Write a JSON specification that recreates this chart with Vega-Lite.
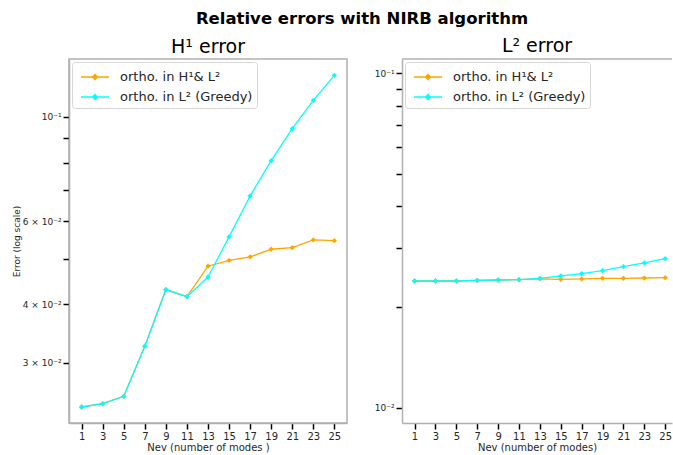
{
  "$schema": "https://vega.github.io/schema/vega-lite/v6.json",
  "padding": {"left": 11, "top": 10, "right": 0, "bottom": 0},
  "title": {
    "text": "Relative errors with NIRB algorithm",
    "fontSize": 16.5,
    "fontWeight": "bold",
    "font": "DejaVu Sans",
    "color": "#000000",
    "anchor": "middle",
    "dx": 20,
    "offset": 10
  },
  "data": {
    "values": [
      {"panel": "H1", "method": "ortho. in H¹& L²", "n": 1, "err": 0.02418},
      {"panel": "H1", "method": "ortho. in H¹& L²", "n": 3, "err": 0.02458},
      {"panel": "H1", "method": "ortho. in H¹& L²", "n": 5, "err": 0.02548},
      {"panel": "H1", "method": "ortho. in H¹& L²", "n": 7, "err": 0.03256},
      {"panel": "H1", "method": "ortho. in H¹& L²", "n": 9, "err": 0.04295},
      {"panel": "H1", "method": "ortho. in H¹& L²", "n": 11, "err": 0.0415},
      {"panel": "H1", "method": "ortho. in H¹& L²", "n": 13, "err": 0.04817},
      {"panel": "H1", "method": "ortho. in H¹& L²", "n": 15, "err": 0.04955},
      {"panel": "H1", "method": "ortho. in H¹& L²", "n": 17, "err": 0.0504},
      {"panel": "H1", "method": "ortho. in H¹& L²", "n": 19, "err": 0.05234},
      {"panel": "H1", "method": "ortho. in H¹& L²", "n": 21, "err": 0.05275},
      {"panel": "H1", "method": "ortho. in H¹& L²", "n": 23, "err": 0.05477},
      {"panel": "H1", "method": "ortho. in H¹& L²", "n": 25, "err": 0.05458},
      {"panel": "H1", "method": "ortho. in L² (Greedy)", "n": 1, "err": 0.02418},
      {"panel": "H1", "method": "ortho. in L² (Greedy)", "n": 3, "err": 0.02458},
      {"panel": "H1", "method": "ortho. in L² (Greedy)", "n": 5, "err": 0.02548},
      {"panel": "H1", "method": "ortho. in L² (Greedy)", "n": 7, "err": 0.03256},
      {"panel": "H1", "method": "ortho. in L² (Greedy)", "n": 9, "err": 0.04295},
      {"panel": "H1", "method": "ortho. in L² (Greedy)", "n": 11, "err": 0.0415},
      {"panel": "H1", "method": "ortho. in L² (Greedy)", "n": 13, "err": 0.04569},
      {"panel": "H1", "method": "ortho. in L² (Greedy)", "n": 15, "err": 0.05559},
      {"panel": "H1", "method": "ortho. in L² (Greedy)", "n": 17, "err": 0.06792},
      {"panel": "H1", "method": "ortho. in L² (Greedy)", "n": 19, "err": 0.08075},
      {"panel": "H1", "method": "ortho. in L² (Greedy)", "n": 21, "err": 0.09443},
      {"panel": "H1", "method": "ortho. in L² (Greedy)", "n": 23, "err": 0.1085},
      {"panel": "H1", "method": "ortho. in L² (Greedy)", "n": 25, "err": 0.1226},
      {"panel": "L2", "method": "ortho. in H¹& L²", "n": 1, "err": 0.02393},
      {"panel": "L2", "method": "ortho. in H¹& L²", "n": 3, "err": 0.02393},
      {"panel": "L2", "method": "ortho. in H¹& L²", "n": 5, "err": 0.02393},
      {"panel": "L2", "method": "ortho. in H¹& L²", "n": 7, "err": 0.02403},
      {"panel": "L2", "method": "ortho. in H¹& L²", "n": 9, "err": 0.0241},
      {"panel": "L2", "method": "ortho. in H¹& L²", "n": 11, "err": 0.02415},
      {"panel": "L2", "method": "ortho. in H¹& L²", "n": 13, "err": 0.02427},
      {"panel": "L2", "method": "ortho. in H¹& L²", "n": 15, "err": 0.0242},
      {"panel": "L2", "method": "ortho. in H¹& L²", "n": 17, "err": 0.02427},
      {"panel": "L2", "method": "ortho. in H¹& L²", "n": 19, "err": 0.02437},
      {"panel": "L2", "method": "ortho. in H¹& L²", "n": 21, "err": 0.02437},
      {"panel": "L2", "method": "ortho. in H¹& L²", "n": 23, "err": 0.02443},
      {"panel": "L2", "method": "ortho. in H¹& L²", "n": 25, "err": 0.02448},
      {"panel": "L2", "method": "ortho. in L² (Greedy)", "n": 1, "err": 0.02393},
      {"panel": "L2", "method": "ortho. in L² (Greedy)", "n": 3, "err": 0.02393},
      {"panel": "L2", "method": "ortho. in L² (Greedy)", "n": 5, "err": 0.02393},
      {"panel": "L2", "method": "ortho. in L² (Greedy)", "n": 7, "err": 0.02403},
      {"panel": "L2", "method": "ortho. in L² (Greedy)", "n": 9, "err": 0.0241},
      {"panel": "L2", "method": "ortho. in L² (Greedy)", "n": 11, "err": 0.02415},
      {"panel": "L2", "method": "ortho. in L² (Greedy)", "n": 13, "err": 0.02437},
      {"panel": "L2", "method": "ortho. in L² (Greedy)", "n": 15, "err": 0.02478},
      {"panel": "L2", "method": "ortho. in L² (Greedy)", "n": 17, "err": 0.02518},
      {"panel": "L2", "method": "ortho. in L² (Greedy)", "n": 19, "err": 0.0257},
      {"panel": "L2", "method": "ortho. in L² (Greedy)", "n": 21, "err": 0.02642},
      {"panel": "L2", "method": "ortho. in L² (Greedy)", "n": 23, "err": 0.0271},
      {"panel": "L2", "method": "ortho. in L² (Greedy)", "n": 25, "err": 0.02791}
    ]
  },
  "spacing": 26,
  "hconcat": [
    {
      "width": 278,
      "height": 364,
      "title": {"text": "H¹ error"},
      "view": {"stroke": "#b0b0b0", "strokeWidth": 1.5},
      "transform": [{"filter": "datum.panel === 'H1'"}],
      "mark": {
        "type": "line",
        "strokeWidth": 1.3,
        "point": {"shape": "diamond", "filled": true, "size": 28}
      },
      "encoding": {
        "x": {
          "field": "n",
          "type": "quantitative",
          "scale": {"domain": [-0.2, 26.2], "nice": false, "zero": false},
          "axis": {
            "values": [1, 3, 5, 7, 9, 11, 13, 15, 17, 19, 21, 23, 25],
            "title": "Nev (number of modes )"
          }
        },
        "y": {
          "field": "err",
          "type": "quantitative",
          "scale": {"type": "log", "domain": [0.02236, 0.1328], "nice": false},
          "axis": {
            "values": [0.03, 0.04, 0.05, 0.06, 0.07, 0.08, 0.09, 0.1],
            "labelExpr": "abs(datum.value - 0.1) < 1e-9 ? '10⁻¹' : abs(datum.value - 0.06) < 1e-9 ? '6 × 10⁻²' : abs(datum.value - 0.04) < 1e-9 ? '4 × 10⁻²' : abs(datum.value - 0.03) < 1e-9 ? '3 × 10⁻²' : ''",
            "title": "Error (log scale)",
            "titleFontSize": 9,
            "minExtent": 44,
            "maxExtent": 44,
            "titlePadding": 4
          }
        },
        "color": {
          "field": "method",
          "type": "nominal",
          "scale": {
            "domain": ["ortho. in H¹& L²", "ortho. in L² (Greedy)"],
            "range": ["#FFA500", "#00FFFF"]
          },
          "legend": {
            "orient": "top-left",
            "title": null,
            "offset": 3,
            "padding": 4,
            "strokeColor": "#d6d6d6",
            "fillColor": "#ffffff",
            "cornerRadius": 3,
            "symbolType": "M-1.4,0H1.4M-0.25,0L0,-0.25L0.25,0L0,0.25Z",
            "symbolSize": 400,
            "symbolOffset": 8,
            "symbolStrokeWidth": 1.3,
            "labelFontSize": 13,
            "labelOffset": 14,
            "rowPadding": 2,
            "labelColor": "#262626"
          }
        }
      }
    },
    {
      "width": 270,
      "height": 364,
      "title": {"text": "L² error"},
      "view": {"stroke": null},
      "layer": [
        {
          "transform": [{"filter": "datum.panel === 'L2'"}],
          "mark": {
            "type": "line",
            "strokeWidth": 1.3,
            "point": {"shape": "diamond", "filled": true, "size": 28}
          },
          "encoding": {
            "x": {
              "field": "n",
              "type": "quantitative",
              "scale": {"domain": [-0.2, 25.65], "nice": false, "zero": false},
              "axis": {
                "values": [1, 3, 5, 7, 9, 11, 13, 15, 17, 19, 21, 23, 25],
                "title": "Nev (number of modes)"
              }
            },
            "y": {
              "field": "err",
              "type": "quantitative",
              "scale": {"type": "log", "domain": [0.009006, 0.1103], "nice": false},
              "axis": {
                "values": [0.009, 0.01, 0.02, 0.03, 0.04, 0.05, 0.06, 0.07, 0.08, 0.09, 0.1],
                "labelExpr": "abs(datum.value - 0.1) < 1e-9 ? '10⁻¹' : abs(datum.value - 0.01) < 1e-9 ? '10⁻²' : ''",
                "title": null,
                "minExtent": 26,
                "maxExtent": 26
              }
            },
            "color": {
              "field": "method",
              "type": "nominal",
              "scale": {
                "domain": ["ortho. in H¹& L²", "ortho. in L² (Greedy)"],
                "range": ["#FFA500", "#00FFFF"]
              },
              "legend": {
                "orient": "top-left",
                "title": null,
                "offset": 3,
                "padding": 4,
                "strokeColor": "#d6d6d6",
                "fillColor": "#ffffff",
                "cornerRadius": 3,
                "symbolType": "M-1.4,0H1.4M-0.25,0L0,-0.25L0.25,0L0,0.25Z",
                "symbolSize": 400,
                "symbolOffset": 8,
                "symbolStrokeWidth": 1.3,
                "labelFontSize": 13,
                "labelOffset": 14,
                "rowPadding": 2,
                "labelColor": "#262626"
              }
            }
          }
        },
        {
          "data": {"values": [{}]},
          "mark": {"type": "rule", "color": "#b0b0b0", "strokeWidth": 1.5},
          "encoding": {"y": {"datum": 0.1103}}
        }
      ]
    }
  ],
  "resolve": {
    "scale": {"x": "independent", "y": "independent", "color": "independent"},
    "legend": {"color": "independent"}
  },
  "config": {
    "font": "DejaVu Sans",
    "title": {"fontSize": 19, "fontWeight": "normal", "color": "#000000", "offset": 2},
    "axis": {
      "grid": false,
      "domainColor": "#b0b0b0",
      "domainWidth": 1.5,
      "tickColor": "#000000",
      "tickWidth": 1.5,
      "tickSize": 6,
      "labelFont": "DejaVu Sans",
      "labelFontSize": 10,
      "labelColor": "#262626",
      "labelPadding": 2,
      "titleFont": "DejaVu Sans",
      "titleFontSize": 10,
      "titleFontWeight": "normal",
      "titleColor": "#262626",
      "titlePadding": 3
    },
    "axisX": {"titlePadding": 1},
    "axisY": {"labelFontSize": 9}
  }
}
